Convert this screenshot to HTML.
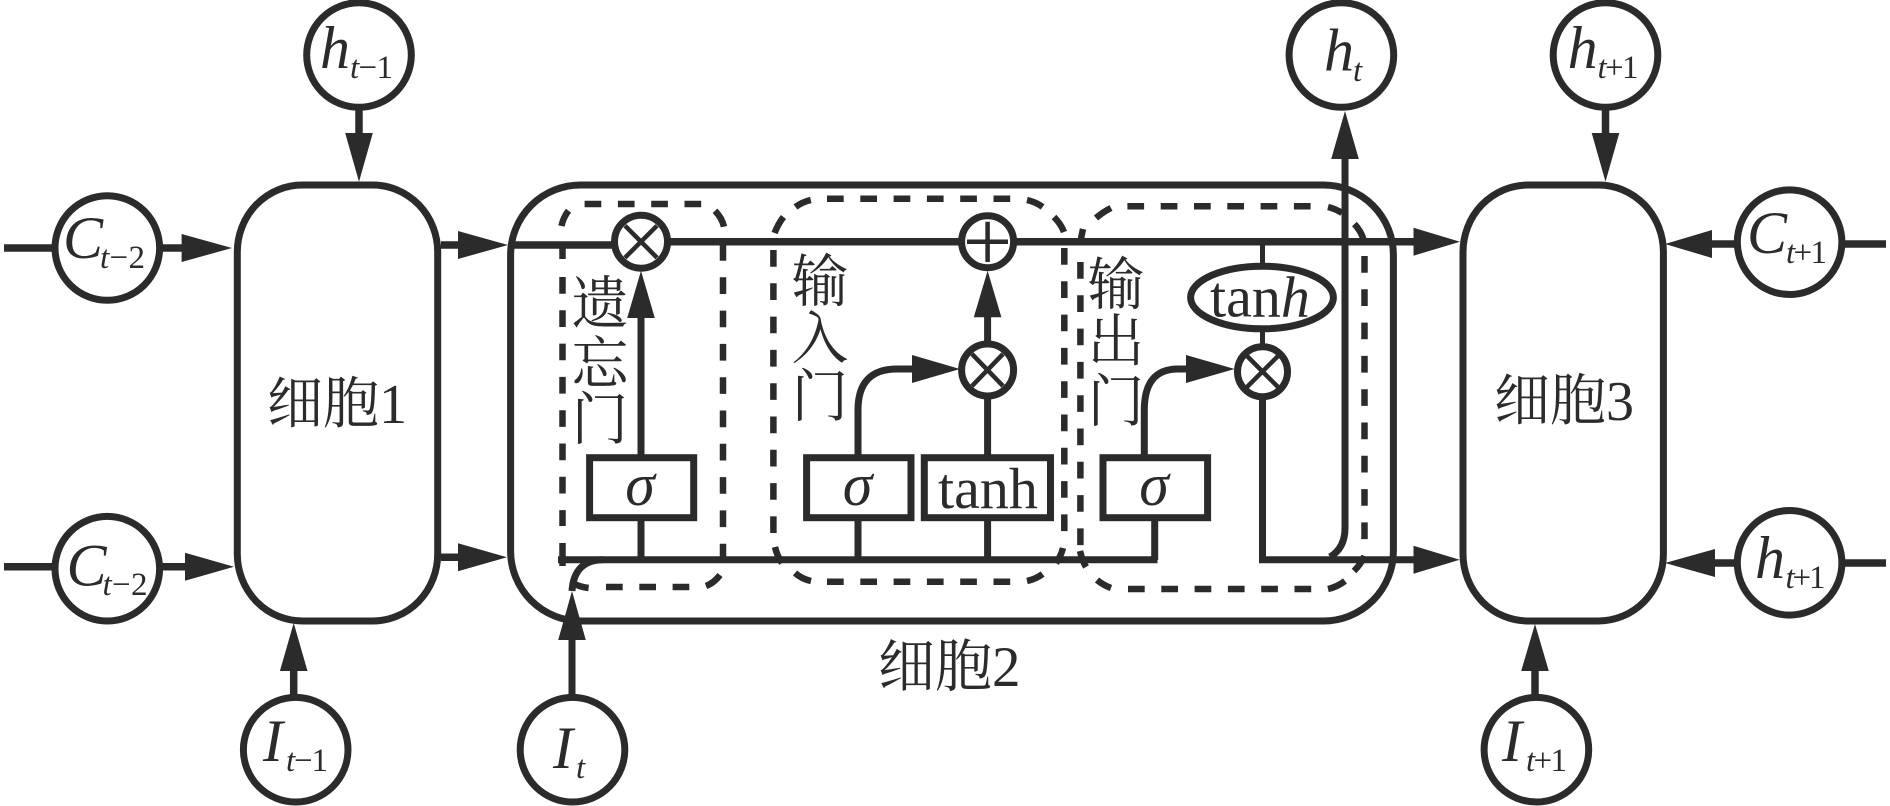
<!DOCTYPE html>
<html><head><meta charset="utf-8"><style>
html,body{margin:0;padding:0;background:#fff}
svg{display:block}
text{fill:#2b2b2b;font-family:"Liberation Serif","Noto Serif CJK SC",serif}
.m{font-size:60px;font-style:italic}
.s{font-size:33px}
.i{font-style:italic}
.c{font-size:56px;font-family:"Liberation Serif","Noto Serif CJK SC",serif}
.v{font-size:57px;text-anchor:middle}
.l{fill:none;stroke:#2b2b2b;stroke-width:7}
.n{fill:#fff;stroke:#2b2b2b;stroke-width:7}
.t{fill:none;stroke:#2b2b2b;stroke-width:4.5}
.d{fill:none;stroke:#2b2b2b;stroke-width:6.5;stroke-dasharray:16.7 16.6}
.a{fill:none;stroke:#2b2b2b;stroke-width:6.5}
.f{fill:#2b2b2b}
</style></head><body>
<svg width="1890" height="806" viewBox="0 0 1890 806" xmlns="http://www.w3.org/2000/svg">
<rect width="1890" height="806" fill="#fff"/>

<!-- dashed gates -->
<path class="d" d="M584.6 204H702M723 244V560M562.5 277V526M606 587H690"/>
<path class="a" d="M715 210.7Q722 218 724 226.7M568.5 210.7Q563 218 561.5 226M562.5 248V259M562.5 543V566M720 575Q714 583 706 586M572.5 583Q580 587 588.6 588"/>
<path class="d" d="M827 198.7H1011M773.4 250V533M827 581.7H1011M1064.3 248V532"/>
<path class="a" d="M795.5 207Q802 202 810.8 200M774.6 233Q778 224 783.5 217M1027 200Q1036 202 1042.6 207M1054 217Q1061 224 1064 232M775 547Q777 556 782 563M795 573Q802 579 811 581M1027 581Q1036 579 1042.6 574M1056 563Q1061 556 1063 548"/>
<path class="d" d="M1127.4 206.3H1312M1080.4 262V546M1128 589H1313M1364.5 256V540"/>
<path class="a" d="M1328 207Q1336 209 1342 213M1354.4 224Q1361 231 1363.7 240M1111 208Q1103 212 1096 218M1083 229Q1081 237 1080.4 245M1080 551Q1082 560 1086 567M1097 580Q1103 585 1111 588M1328 589Q1337 587 1345 581M1354 571Q1361 564 1364.5 556"/>

<!-- cells -->
<rect class="l" x="237.3" y="185" width="200.4" height="436" rx="65" ry="67"/>
<rect class="l" x="510.6" y="185" width="882.8" height="436" rx="70" ry="70"/>
<rect class="l" x="1463" y="185" width="200.4" height="436" rx="65" ry="67"/>

<!-- main lines -->
<path class="l" style="stroke-width:7.5" d="M4 248H60M155 248H185M441 245H460M510 245H620M665 241.7H965M1010 241.7H1416"/>
<path class="l" style="stroke-width:7.5" d="M4 566.7H60M155 566.7H190M441 557.3H460M1708 244H1740M1835 244H1886M1711 563H1740M1835 563H1886"/>
<path class="l" d="M558 559.7H1157.5M1154.7 520V560M641 318V455M641 520V560M858 520V560M987.6 520V560M987.6 398V455M987.6 317V342"/>
<path class="l" d="M858 455V410Q858 369 897 369H915M1144.3 455V410Q1144.3 369 1178 369H1190"/>
<path class="l" d="M572 755V640M572 591Q574 560 603 559.7"/>
<path class="l" d="M1262.5 400V559.7H1416M1345 155V528Q1345 548 1330 557"/>
<path class="l" style="stroke-width:5" d="M1262.5 245V265M1262.5 330V345"/>
<path class="l" style="stroke-width:7.5" d="M359 108V135M1605.5 108V135M293.7 671V755M1535 671V755"/>

<!-- arrowheads -->
<path class="f" d="M232 248L181.6 234V262Z"/>
<path class="f" d="M508 245L458 231V259Z"/>
<path class="f" d="M234 566.7L185 552.7V580.7Z"/>
<path class="f" d="M507 557.3L458 543.3V571.3Z"/>
<path class="f" d="M359 181.7L345.2 133H372.8Z"/>
<path class="f" d="M293.7 623L279.9 671H307.5Z"/>
<path class="f" d="M572 591L558.2 640H585.8Z"/>
<path class="f" d="M641 270.7L627.2 318H654.8Z"/>
<path class="f" d="M987.6 270.7L973.8 317.3H1001.4Z"/>
<path class="f" d="M960 369L912 355V383Z"/>
<path class="f" d="M1234.7 369L1186 355V383Z"/>
<path class="f" d="M1345 111L1331.2 159H1358.8Z"/>
<path class="f" d="M1460 241.7L1413.5 227.7V255.7Z"/>
<path class="f" d="M1459.7 559.7L1413.5 545.7V573.7Z"/>
<path class="f" d="M1605.5 181.7L1591.7 133H1619.3Z"/>
<path class="f" d="M1535 624L1521.2 671H1548.8Z"/>
<path class="f" d="M1665 244L1712 230V258Z"/>
<path class="f" d="M1665 563L1715 549V577Z"/>

<!-- circles -->
<circle class="n" cx="359" cy="55" r="52.3"/>
<circle class="n" cx="107.3" cy="248" r="52.3"/>
<circle class="n" cx="107.3" cy="568.7" r="52.3"/>
<circle class="n" cx="295.7" cy="749.7" r="52.3"/>
<circle class="n" cx="572.5" cy="749.7" r="52.3"/>
<circle class="n" cx="1341.4" cy="55" r="52.3"/>
<circle class="n" cx="1605.5" cy="55" r="52.3"/>
<circle class="n" cx="1789.6" cy="242.2" r="52.3"/>
<circle class="n" cx="1789.6" cy="562.8" r="52.3"/>
<circle class="n" cx="1536.4" cy="749.7" r="52.3"/>

<!-- operators -->
<circle class="n" cx="641" cy="241.7" r="26.5"/>
<path class="t" d="M625 225.7L657 257.7M657 225.7L625 257.7"/>
<circle class="n" cx="987.6" cy="241.7" r="26"/>
<path class="t" d="M967 241.7H1008M987.6 221.7V262"/>
<circle class="n" cx="987.6" cy="370" r="26"/>
<path class="t" d="M972 354L1003 386M1003 354L972 386"/>
<circle class="n" cx="1262.5" cy="371.7" r="25"/>
<path class="t" d="M1247 356L1278 387M1278 356L1247 387"/>

<!-- boxes -->
<rect class="n" x="589.6" y="457.7" width="104.1" height="60"/>
<rect class="n" x="806.6" y="457.7" width="104.4" height="60"/>
<rect class="n" x="924.3" y="457.7" width="126.2" height="60"/>
<rect class="n" x="1103" y="457.7" width="104.6" height="60"/>
<ellipse class="n" cx="1262" cy="297.5" rx="71.4" ry="31.3"/>

<!-- box labels -->
<text class="m" x="640" y="505" text-anchor="middle">σ</text>
<text class="m" x="857.5" y="505" text-anchor="middle">σ</text>
<text class="m" x="1154" y="505" text-anchor="middle">σ</text>
<text x="938" y="508" style="font-size:58px">tanh</text>
<text x="1210" y="316.7" style="font-size:58px">tan<tspan class="i">h</tspan></text>

<!-- node labels -->
<text class="m" x="320" y="68">h</text><text class="s" x="350" y="78" textLength="43"><tspan class="i">t</tspan>−1</text>
<text class="m" x="63" y="258">C</text><text class="s" x="100" y="268" textLength="45"><tspan class="i">t</tspan>−2</text>
<text class="m" x="66.5" y="585.3">C</text><text class="s" x="102.5" y="595" textLength="45"><tspan class="i">t</tspan>−2</text>
<text class="m" x="263" y="761">I</text><text class="s" x="286" y="771" textLength="42"><tspan class="i">t</tspan>−1</text>
<text class="m" x="553" y="768">I</text><text class="s i" x="576" y="778">t</text>
<text class="m" x="1324" y="70.7">h</text><text class="s i" x="1353" y="81">t</text>
<text class="m" x="1567.6" y="68">h</text><text class="s" x="1597.5" y="78" textLength="41"><tspan class="i">t</tspan>+1</text>
<text class="m" x="1747" y="253">C</text><text class="s" x="1786" y="263" textLength="41"><tspan class="i">t</tspan>+1</text>
<text class="m" x="1755" y="578">h</text><text class="s" x="1785.5" y="588" textLength="40"><tspan class="i">t</tspan>+1</text>
<text class="m" x="1502" y="761">I</text><text class="s" x="1526" y="771" textLength="41"><tspan class="i">t</tspan>+1</text>

<!-- cell labels -->
<text class="c" x="267" y="423">细胞1</text>
<text class="c" x="1494" y="420">细胞3</text>
<text class="c" x="878" y="686" style="font-size:57px">细胞2</text>

<!-- gate labels -->
<text class="v" x="600" y="323">遗</text><text class="v" x="600" y="383">忘</text><text class="v" x="600" y="439">门</text>
<text class="v" x="820" y="301">输</text><text class="v" x="820" y="358">入</text><text class="v" x="820" y="416">门</text>
<text class="v" x="1116" y="304">输</text><text class="v" x="1116" y="361">出</text><text class="v" x="1116" y="421">门</text>
</svg>
</body></html>
